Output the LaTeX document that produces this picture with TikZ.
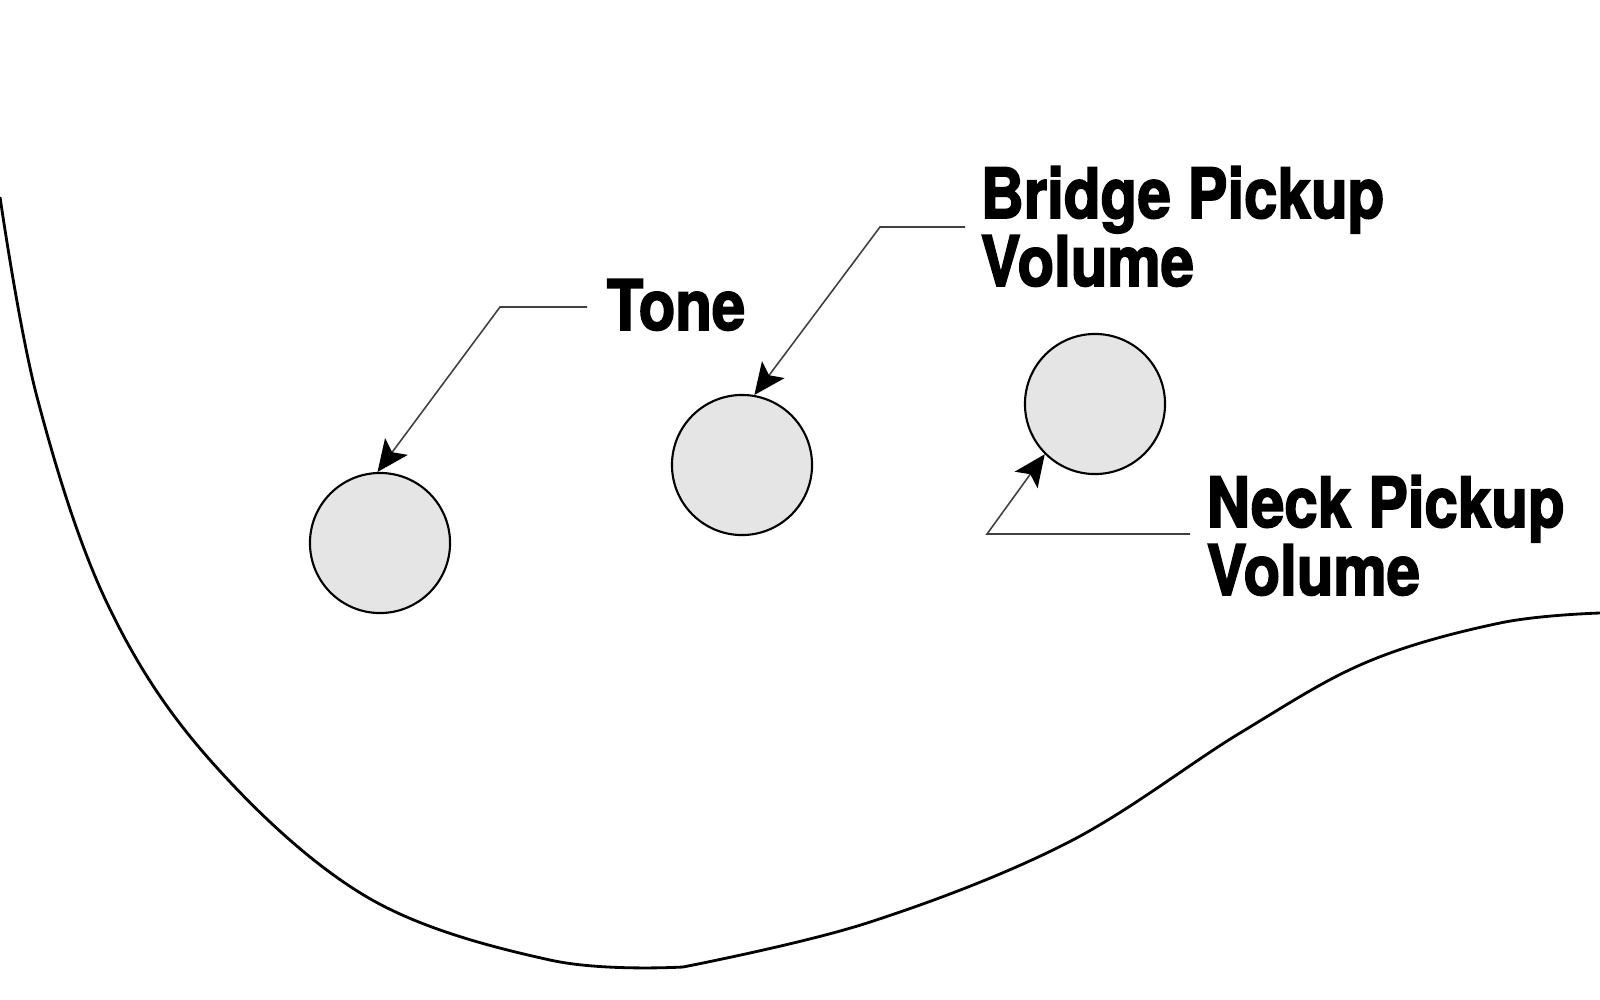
\documentclass[tikz,border=0pt]{standalone}
\usepackage{fontspec}
\newfontfamily\lblfont{TeX Gyre Heros}[FakeStretch=0.86,FakeBold=2.2]
\usetikzlibrary{arrows.meta}
\begin{document}
\begin{tikzpicture}[x=0.01cm,y=-0.01cm,
  knob/.style={circle,draw=black,line width=0.6pt,fill=black!10,minimum size=1.40cm,inner sep=0pt},
  lbl/.style={anchor=base west,inner sep=0pt,align=left,font=\lblfont\bfseries\fontsize{19.8}{19.3}\selectfont},
  leader/.style={draw=black!75,line width=0.45pt},
  tip/.style={-{Stealth[length=9pt,width=8pt,inset=2pt,color=black]}},
  body/.style={draw=black,line width=0.8pt}]
\useasboundingbox (0,0) rectangle (1600,1000);
% body outline
\draw[body] plot[smooth,tension=0.6] coordinates {(0,197) (37,397) (107,603) (210,760) (367,897) (550,960) (683,967)};
\draw[body] plot[smooth,tension=0.6] coordinates {(683,967) (867,923) (1067,843) (1240,733) (1367,662) (1500,623) (1600,613)};
% knobs
\node[knob] (tone) at (380,543) {};
\node[knob] (bridge) at (742,465) {};
\node[knob] (neck) at (1095,404) {};
% labels
\node[lbl] (tonelbl) at (606,330) {Tone};
\node[lbl] (bridgelbl) at (980,286) {Bridge Pickup\\Volume};
\node[lbl] (necklbl) at (1206,595) {Neck Pickup\\Volume};
% leaders
\coordinate (t1) at (587,307);
\coordinate (t2) at (500,307);
\coordinate (b1) at (965,227);
\coordinate (b2) at (880,227);
\coordinate (n1) at (1190,534);
\coordinate (n2) at (987,534);
\draw[leader,tip] (t1) -- (t2) -- (tone.92);
\draw[leader,tip] (b1) -- (b2) -- (bridge.80);
\draw[leader,tip] (n1) -- (n2) -- (neck.225);
\end{tikzpicture}
\end{document}
